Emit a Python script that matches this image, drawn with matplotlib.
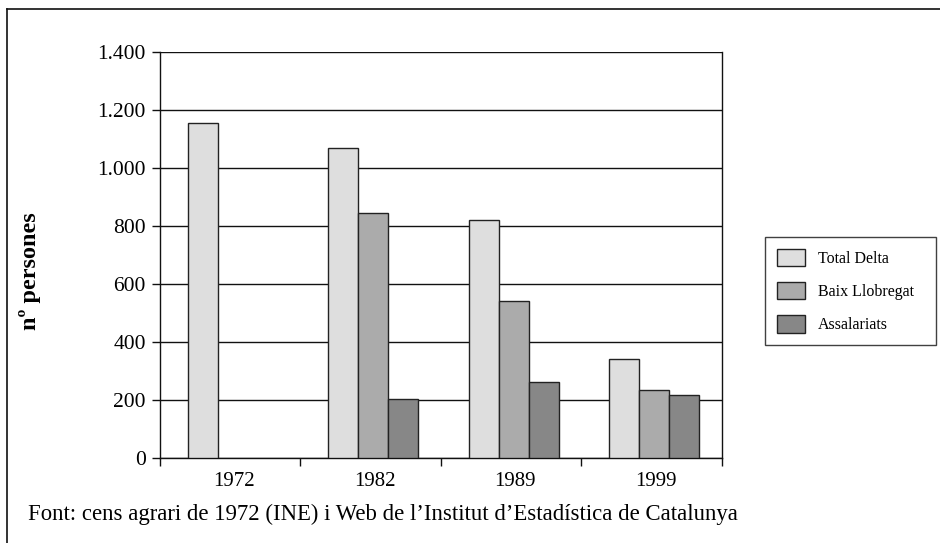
import numpy as np
import matplotlib
matplotlib.use("Agg")
import matplotlib.pyplot as plt
from matplotlib.lines import Line2D

plt.rcParams['font.family'] = ['Liberation Serif', 'DejaVu Serif']

years = ['1972', '1982', '1989', '1999']
series_names = ['Total Delta', 'Baix Llobregat', 'Assalariats']
total_delta = [1155, 1070, 820, 340]
baix_llobregat = [np.nan, 845, 540, 235]
assalariats = [np.nan, 203, 262, 217]
yticks = [0, 200, 400, 600, 800, 1000, 1200, 1400]
ytick_labels = ['0', '200', '400', '600', '800', '1.000', '1.200', '1.400']
colors = ['#dedede', '#ababab', '#878787']

fig = plt.figure(figsize=(9.4, 5.43), dpi=100)
ax = fig.add_axes([0.170, 0.1565, 0.598, 0.7475])

x = np.arange(len(years))
w = 0.2135
for i, (vals, name, c) in enumerate(zip([total_delta, baix_llobregat, assalariats], series_names, colors)):
    vals = np.array(vals, dtype=float)
    m = ~np.isnan(vals)
    ax.bar(x[m] + (i - 1) * w + 0.02, vals[m], width=w, color=c, edgecolor='#222222',
           linewidth=1.0, label=name, zorder=3)

ax.set_ylim(0, 1400)
ax.set_xlim(-0.5, len(years) - 0.5)
ax.set_yticks(yticks)
ax.set_yticklabels(ytick_labels, fontsize=15.5)
ax.yaxis.grid(True, color='#111111', linewidth=1.0, zorder=0)
ax.set_axisbelow(True)

ax.set_xticks(x + 0.03)
ax.set_xticklabels(years, fontsize=15)
ax.set_xticks(np.arange(-0.5, len(years)), minor=True)
ax.tick_params(axis='x', which='major', length=0, pad=10)
ax.tick_params(axis='x', which='minor', length=6, width=1.0, direction='out', color='#111111')
ax.tick_params(axis='y', length=6, width=1.0, direction='out', color='#111111', pad=4)

for s in ['left', 'bottom', 'right']:
    ax.spines[s].set_color('#111111')
    ax.spines[s].set_linewidth(1.0)
ax.spines['top'].set_visible(False)

fig.text(0.032, 0.50, 'nº persones', rotation=90, fontsize=17.5, fontweight='bold',
         ha='center', va='center')

leg = fig.legend(loc='center left', bbox_to_anchor=(765 / 940, 1 - 345 / 543, 171 / 940, 108 / 543),
                 mode='expand', fontsize=11.5,
                 frameon=True, fancybox=False, edgecolor='#111111',
                 handlelength=1.75, handleheight=1.3, labelspacing=0.95,
                 borderpad=0.75, borderaxespad=0.0, handletextpad=0.8)
leg.get_frame().set_linewidth(1.0)

fig.text(0.030, 0.052, "Font: cens agrari de 1972 (INE) i Web de l\u2019Institut d\u2019Estadística de Catalunya",
         fontsize=16.4, ha='left', va='center')

# figure border (left and top)
fig.add_artist(Line2D([0.0075, 0.0075], [0.0, 0.983], transform=fig.transFigure,
                      color='#111111', linewidth=1.2))
fig.add_artist(Line2D([0.0075, 1.0], [0.983, 0.983], transform=fig.transFigure,
                      color='#111111', linewidth=1.2))

fig.savefig('out.png', dpi=100)
